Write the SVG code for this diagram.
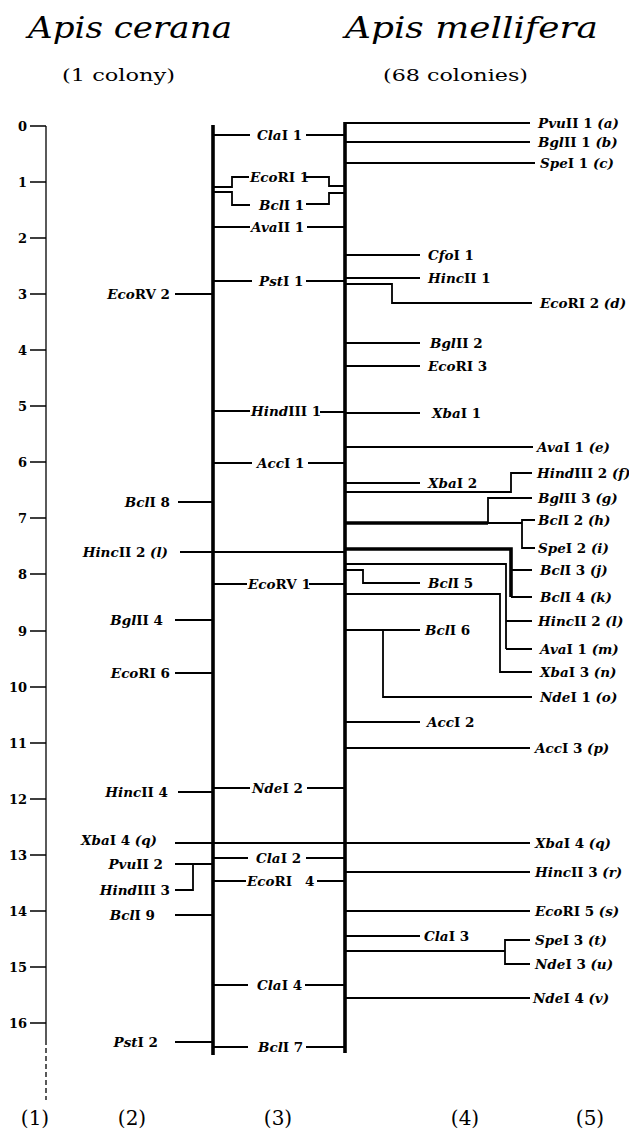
<svg xmlns="http://www.w3.org/2000/svg" width="629" height="1137" viewBox="0 0 629 1137">
<style>
.ln{stroke:#000;stroke-width:1.8;fill:none}
.tk{stroke:#000;stroke-width:3.6;fill:none}
.ax{stroke:#000;stroke-width:1.3;fill:none}
.l{font-family:"DejaVu Serif",serif;font-size:13.5px;font-weight:bold;font-style:italic;fill:#000}
.r{font-style:normal}
.e{text-anchor:end}
.num{font-family:"DejaVu Serif",serif;font-size:13px;font-weight:bold;fill:#000;text-anchor:end}
.title{font-family:"DejaVu Serif",serif;font-size:30px;font-style:italic;fill:#000}
.sub{font-family:"DejaVu Serif",serif;font-size:17px;fill:#000}
.col{font-family:"DejaVu Serif",serif;font-size:20px;fill:#000;text-anchor:middle}
</style>
<rect width="629" height="1137" fill="#fff"/>
<g id="titles">
<text class="title" x="28" y="38" textLength="204" lengthAdjust="spacingAndGlyphs">Apis cerana</text>
<text class="title" x="345" y="38" textLength="253" lengthAdjust="spacingAndGlyphs">Apis mellifera</text>
<text class="sub" x="62" y="81" textLength="113" lengthAdjust="spacingAndGlyphs">(1  colony)</text>
<text class="sub" x="383" y="81" textLength="145" lengthAdjust="spacingAndGlyphs">(68  colonies)</text>
</g>
<g id="scale">
<path class="ax" d="M46,126 V1040"/>
<path class="ax" d="M46,1040 V1100" stroke-dasharray="5,3"/>
<path class="ax" d="M30,126H46M30,182H46M30,238H46M30,294H46M30,350H46M30,406H46M30,462H46M30,518H46M30,574H46M30,631H46M30,687H46M30,743H46M30,799H46M30,855H46M30,911H46M30,967H46M30,1023H46"/>
<text class="num" x="27" y="131">0</text>
<text class="num" x="27" y="187">1</text>
<text class="num" x="27" y="243">2</text>
<text class="num" x="27" y="299">3</text>
<text class="num" x="27" y="355">4</text>
<text class="num" x="27" y="411">5</text>
<text class="num" x="27" y="467">6</text>
<text class="num" x="27" y="523">7</text>
<text class="num" x="27" y="579">8</text>
<text class="num" x="27" y="636">9</text>
<text class="num" x="27" y="692">10</text>
<text class="num" x="27" y="748">11</text>
<text class="num" x="27" y="804">12</text>
<text class="num" x="27" y="860">13</text>
<text class="num" x="27" y="916">14</text>
<text class="num" x="27" y="972">15</text>
<text class="num" x="27" y="1028">16</text>
</g>
<g id="connectors">
<path class="tk" d="M213,125 V1055"/>
<path class="tk" d="M345,122 V1053"/>
<path class="ln" d="M213,135H250M306,135H345"/>
<path class="ln" d="M213,187H232V177H249M306,177H329V186H345"/>
<path class="ln" d="M213,192H232V205H250M306,204H329V193H345"/>
<path class="ln" d="M213,227H250M307,227H345"/>
<path class="ln" d="M213,281H252M306,281H345"/>
<path class="ln" d="M213,411H250M320,412H345"/>
<path class="ln" d="M213,463H252M308,463H345"/>
<path class="ln" d="M213,584H247M309,584H345"/>
<path class="ln" d="M213,788H250M307,788H345"/>
<path class="ln" d="M213,858H248M306,858H345"/>
<path class="ln" d="M213,881H246M317,881H345"/>
<path class="ln" d="M213,985H248M305,985H345"/>
<path class="ln" d="M213,1047H248M306,1047H345"/>
<path class="ln" d="M175,294H213"/>
<path class="ln" d="M178,502H213"/>
<path class="ln" d="M180,552H345"/>
<path class="ln" d="M175,620H213"/>
<path class="ln" d="M175,673H213"/>
<path class="ln" d="M178,792H213"/>
<path class="ln" d="M175,843H530"/>
<path class="ln" d="M175,864H213M193,864V890H175"/>
<path class="ln" d="M175,915H213"/>
<path class="ln" d="M175,1042H213"/>
<path class="ln" d="M345,123H530"/>
<path class="ln" d="M345,142H530"/>
<path class="ln" d="M345,163H535"/>
<path class="ln" d="M345,255H420"/>
<path class="ln" d="M345,278H420"/>
<path class="ln" d="M345,284H392V303H532"/>
<path class="ln" d="M345,343H420"/>
<path class="ln" d="M345,366H420"/>
<path class="ln" d="M345,413H420"/>
<path class="ln" d="M345,447H533"/>
<path class="ln" d="M345,483H420"/>
<path class="ln" d="M345,492H511V473H532"/>
<path class="tk" d="M345,523H488"/>
<path class="ln" d="M488,523V498H532M488,523H522M535,520H522V548H535"/>
<path class="tk" d="M345,549H511V597"/>
<path class="ln" d="M511,570H532M511,597H532"/>
<path class="ln" d="M345,564H506V649M506,621H532M506,649H532"/>
<path class="ln" d="M345,570H363V583H420"/>
<path class="ln" d="M345,594H500V672H532"/>
<path class="ln" d="M345,630H420M383,630V697H532"/>
<path class="ln" d="M345,722H420"/>
<path class="ln" d="M345,748H530"/>
<path class="ln" d="M345,872H530"/>
<path class="ln" d="M345,911H530"/>
<path class="ln" d="M345,936H420"/>
<path class="ln" d="M345,951H505M530,940H505V964H530"/>
<path class="ln" d="M345,998H530"/>
</g>
<g id="col3">
<g id="ClaI1"><text class="l" x="257" y="140">Cla<tspan class="r">I 1</tspan></text></g>
<g id="EcoRI1"><text class="l" x="250" y="182">Eco<tspan class="r">RI 1</tspan></text></g>
<g id="BclI1"><text class="l" x="259" y="210">Bcl<tspan class="r">I 1</tspan></text></g>
<g id="AvaII1"><text class="l" x="251" y="232">Ava<tspan class="r">II 1</tspan></text></g>
<g id="PstI1"><text class="l" x="259" y="286">Pst<tspan class="r">I 1</tspan></text></g>
<g id="HindIII1"><text class="l" x="251" y="416">Hind<tspan class="r">III 1</tspan></text></g>
<g id="AccI1"><text class="l" x="257" y="468">Acc<tspan class="r">I 1</tspan></text></g>
<g id="EcoRV1"><text class="l" x="248" y="589">Eco<tspan class="r">RV 1</tspan></text></g>
<g id="NdeI2"><text class="l" x="252" y="793">Nde<tspan class="r">I 2</tspan></text></g>
<g id="ClaI2"><text class="l" x="256" y="863">Cla<tspan class="r">I 2</tspan></text></g>
<g id="EcoRI4"><text class="l" x="247" y="886">Eco<tspan class="r">RI</tspan><tspan class="r" x="305">4</tspan></text></g>
<g id="ClaI4"><text class="l" x="257" y="990">Cla<tspan class="r">I 4</tspan></text></g>
<g id="BclI7"><text class="l" x="258" y="1052">Bcl<tspan class="r">I 7</tspan></text></g>
</g>
<g id="col2">
<g id="EcoRV2"><text class="l e" x="170" y="299">Eco<tspan class="r">RV 2</tspan></text></g>
<g id="BclI8"><text class="l e" x="170" y="507">Bcl<tspan class="r">I 8</tspan></text></g>
<g id="HincII2l"><text class="l e" x="168" y="557">Hinc<tspan class="r">II 2 </tspan>(l)</text></g>
<g id="BglII4"><text class="l e" x="163" y="625">Bgl<tspan class="r">II 4</tspan></text></g>
<g id="EcoRI6"><text class="l e" x="170" y="678">Eco<tspan class="r">RI 6</tspan></text></g>
<g id="HincII4"><text class="l e" x="168" y="797">Hinc<tspan class="r">II 4</tspan></text></g>
<g id="XbaI4qL"><text class="l e" x="157" y="845">Xba<tspan class="r">I 4 </tspan>(q)</text></g>
<g id="PvuII2"><text class="l e" x="163" y="869">Pvu<tspan class="r">II 2</tspan></text></g>
<g id="HindIII3"><text class="l e" x="170" y="895">Hind<tspan class="r">III 3</tspan></text></g>
<g id="BclI9"><text class="l e" x="155" y="920">Bcl<tspan class="r">I 9</tspan></text></g>
<g id="PstI2"><text class="l e" x="158" y="1047">Pst<tspan class="r">I 2</tspan></text></g>
</g>
<g id="col45">
<g id="PvuII1a"><text class="l" x="538" y="128">Pvu<tspan class="r">II 1 </tspan>(a)</text></g>
<g id="BglII1b"><text class="l" x="538" y="147">Bgl<tspan class="r">II 1 </tspan>(b)</text></g>
<g id="SpeI1c"><text class="l" x="540" y="168">Spe<tspan class="r">I 1 </tspan>(c)</text></g>
<g id="CfoI1"><text class="l" x="428" y="260">Cfo<tspan class="r">I 1</tspan></text></g>
<g id="HincII1"><text class="l" x="428" y="283">Hinc<tspan class="r">II 1</tspan></text></g>
<g id="EcoRI2d"><text class="l" x="540" y="308">Eco<tspan class="r">RI 2 </tspan>(d)</text></g>
<g id="BglII2"><text class="l" x="430" y="348">Bgl<tspan class="r">II 2</tspan></text></g>
<g id="EcoRI3"><text class="l" x="428" y="371">Eco<tspan class="r">RI 3</tspan></text></g>
<g id="XbaI1"><text class="l" x="432" y="418">Xba<tspan class="r">I 1</tspan></text></g>
<g id="AvaI1e"><text class="l" x="537" y="452">Ava<tspan class="r">I 1 </tspan>(e)</text></g>
<g id="XbaI2"><text class="l" x="428" y="488">Xba<tspan class="r">I 2</tspan></text></g>
<g id="HindIII2f"><text class="l" x="537" y="478">Hind<tspan class="r">III 2 </tspan>(f)</text></g>
<g id="BglII3g"><text class="l" x="538" y="503">Bgl<tspan class="r">II 3 </tspan>(g)</text></g>
<g id="BclI2h"><text class="l" x="538" y="525">Bcl<tspan class="r">I 2 </tspan>(h)</text></g>
<g id="SpeI2i"><text class="l" x="538" y="553">Spe<tspan class="r">I 2 </tspan>(i)</text></g>
<g id="BclI3j"><text class="l" x="540" y="575">Bcl<tspan class="r">I 3 </tspan>(j)</text></g>
<g id="BclI5"><text class="l" x="428" y="588">Bcl<tspan class="r">I 5</tspan></text></g>
<g id="BclI4k"><text class="l" x="540" y="602">Bcl<tspan class="r">I 4 </tspan>(k)</text></g>
<g id="HincII2lR"><text class="l" x="538" y="626">Hinc<tspan class="r">II 2 </tspan>(l)</text></g>
<g id="BclI6"><text class="l" x="425" y="635">Bcl<tspan class="r">I 6</tspan></text></g>
<g id="AvaI1m"><text class="l" x="540" y="654">Ava<tspan class="r">I 1 </tspan>(m)</text></g>
<g id="XbaI3n"><text class="l" x="540" y="677">Xba<tspan class="r">I 3 </tspan>(n)</text></g>
<g id="NdeI1o"><text class="l" x="540" y="702">Nde<tspan class="r">I 1 </tspan>(o)</text></g>
<g id="AccI2"><text class="l" x="427" y="727">Acc<tspan class="r">I 2</tspan></text></g>
<g id="AccI3p"><text class="l" x="535" y="753">Acc<tspan class="r">I 3 </tspan>(p)</text></g>
<g id="XbaI4qR"><text class="l" x="535" y="848">Xba<tspan class="r">I 4 </tspan>(q)</text></g>
<g id="HincII3r"><text class="l" x="535" y="877">Hinc<tspan class="r">II 3 </tspan>(r)</text></g>
<g id="EcoRI5s"><text class="l" x="535" y="916">Eco<tspan class="r">RI 5 </tspan>(s)</text></g>
<g id="ClaI3"><text class="l" x="424" y="941">Cla<tspan class="r">I 3</tspan></text></g>
<g id="SpeI3t"><text class="l" x="535" y="945">Spe<tspan class="r">I 3 </tspan>(t)</text></g>
<g id="NdeI3u"><text class="l" x="535" y="969">Nde<tspan class="r">I 3 </tspan>(u)</text></g>
<g id="NdeI4v"><text class="l" x="533" y="1003">Nde<tspan class="r">I 4 </tspan>(v)</text></g>
</g>
<g id="columns">
<text class="col" x="35" y="1125">(1)</text>
<text class="col" x="132" y="1125">(2)</text>
<text class="col" x="278" y="1125">(3)</text>
<text class="col" x="465" y="1125">(4)</text>
<text class="col" x="590" y="1125">(5)</text>
</g>
</svg>
